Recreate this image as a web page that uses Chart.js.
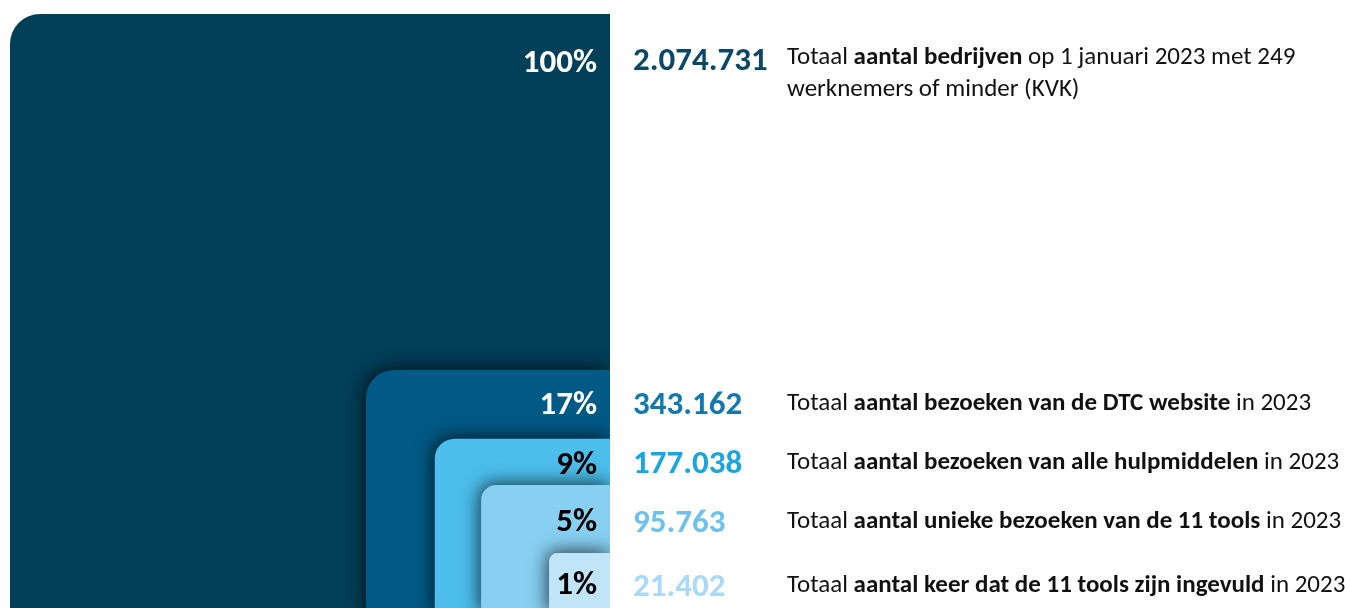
<!DOCTYPE html>
<html><head><meta charset="utf-8">
<script src="https://cdn.jsdelivr.net/npm/chart.js@4/dist/chart.umd.min.js"></script>
<style>html,body{margin:0;padding:0;background:#fff;overflow:hidden}#wrap{width:1345px;height:608px;position:relative}</style>
</head><body><div id="wrap"><canvas id="c" width="1345" height="608"></canvas></div>
<script>
// ---- data ----
const categories = ['bedrijven', 'DTC website', 'hulpmiddelen', 'unieke bezoeken tools', 'tools ingevuld'];
const values = [2074731, 343162, 177038, 95763, 21402];
const valueLabels = ['2.074.731', '343.162', '177.038', '95.763', '21.402'];
const descriptions = [
  [[['Totaal ', false], ['aantal bedrijven', true], [' op 1 januari 2023 met 249', false]],
   [['werknemers of minder (KVK)', false]]],
  [[['Totaal ', false], ['aantal bezoeken van de DTC website', true], [' in 2023', false]]],
  [[['Totaal ', false], ['aantal bezoeken van alle hulpmiddelen', true], [' in 2023', false]]],
  [[['Totaal ', false], ['aantal unieke bezoeken van de 11 tools', true], [' in 2023', false]]],
  [[['Totaal ', false], ['aantal keer dat de 11 tools zijn ingevuld', true], [' in 2023', false]]]
];

// ---- style / layout ----
const FONT = 'Carlito, Calibri, Lato, sans-serif';
const squareColors = ['#023F58', '#005A85', '#4CBEEC', '#87D0F2', '#C0E4F8'];
const pctColors = ['#ffffff', '#ffffff', '#000000', '#000000', '#000000'];
const numColors = ['#0B4866', '#1478AE', '#1AA5DF', '#6DC1EC', '#A8D9F5'];
const radii = [30, 28, 20, 15, 8];
const rowY = [60, 404, 463, 522, 586];
const pctY = [64, 406, 466, 523, 586];

const total = values[0];
const sides = values.map(v => Math.sqrt(v / total));

const squaresPlugin = {
  id: 'nestedSquares',
  beforeDatasetsDraw(chart) {
    const ctx = chart.ctx, xs = chart.scales.x, ys = chart.scales.y, ca = chart.chartArea;
    ctx.save();
    ctx.beginPath();
    ctx.rect(ca.left - 20, 0, ca.right - ca.left + 20, chart.height);
    ctx.clip();
    sides.forEach((s, i) => {
      const x0 = xs.getPixelForValue(1 - s), x1 = xs.getPixelForValue(1);
      const y0 = ys.getPixelForValue(s), y1 = ys.getPixelForValue(0);
      ctx.save();
      if (i > 0) {
        ctx.shadowColor = 'rgba(0,0,0,0.7)';
        ctx.shadowBlur = 18;
        ctx.shadowOffsetX = -2;
        ctx.shadowOffsetY = -2;
      }
      ctx.fillStyle = squareColors[i];
      ctx.beginPath();
      ctx.roundRect(x0, y0, x1 - x0, y1 - y0, [radii[i], 0, 0, 0]);
      ctx.fill();
      ctx.restore();
    });
    ctx.restore();
  },
  afterDatasetsDraw(chart) {
    const ctx = chart.ctx, xs = chart.scales.x, ca = chart.chartArea;
    ctx.save();
    ctx.textBaseline = 'middle';
    values.forEach((v, i) => {
      // percentage inside square
      ctx.textAlign = 'right';
      ctx.font = 'bold 33px ' + FONT;
      ctx.fillStyle = pctColors[i];
      ctx.fillText(Math.round(v / total * 100) + '%', xs.getPixelForValue(1) - 13, pctY[i]);
      // value
      ctx.textAlign = 'left';
      ctx.font = 'bold 33px ' + FONT;
      ctx.fillStyle = numColors[i];
      ctx.fillText(valueLabels[i], ca.right + 23, rowY[i] + 2);
      // description
      descriptions[i].forEach((line, li) => {
        let x = ca.right + 177;
        const y = rowY[i] - (descriptions[i].length > 1 ? 2 : 0) + li * 32;
        line.forEach(([txt, bold]) => {
          ctx.font = (bold ? 'bold ' : '') + '25px ' + FONT;
          ctx.fillStyle = '#111111';
          ctx.fillText(txt, x, y);
          x += ctx.measureText(txt).width;
        });
      });
    });
    ctx.restore();
  }
};

new Chart(document.getElementById('c'), {
  type: 'scatter',
  data: {
    labels: categories,
    datasets: [{
      label: 'vierkanten',
      data: sides.map(s => ({ x: 1 - s, y: s })),
      pointRadius: 0,
      pointHoverRadius: 0
    }]
  },
  options: {
    responsive: false,
    animation: false,
    events: [],
    layout: { padding: { left: 10, top: 14, right: 735, bottom: 0 } },
    plugins: { legend: { display: false }, tooltip: { enabled: false } },
    scales: {
      x: { type: 'linear', min: 0, max: 1, display: false },
      y: { type: 'linear', min: 0.01, max: 1, display: false }
    }
  },
  plugins: [squaresPlugin]
});
</script>
</body></html>
